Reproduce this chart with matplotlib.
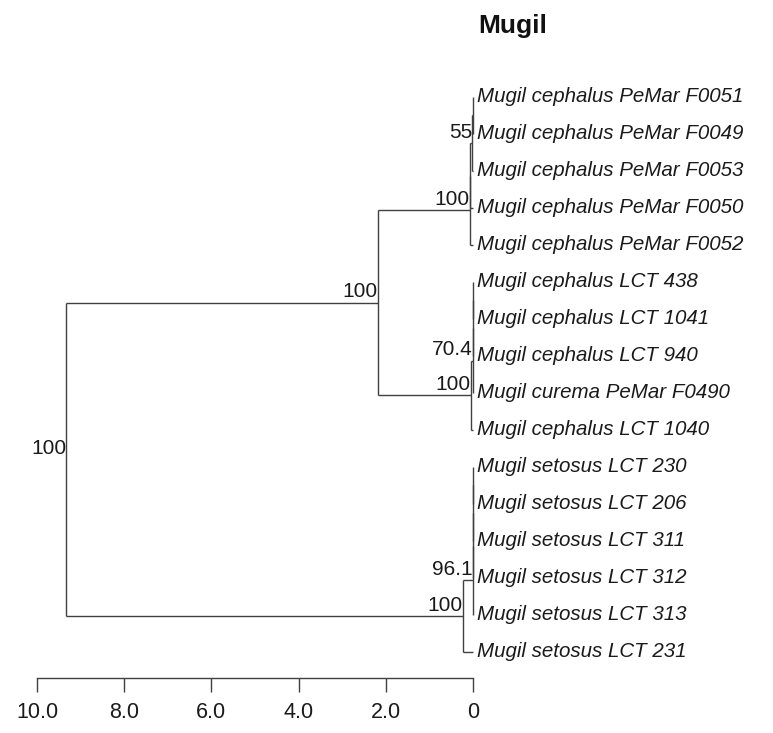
import matplotlib
matplotlib.use("Agg")
import matplotlib.pyplot as plt

plt.rcParams['font.family'] = ['Liberation Sans', 'DejaVu Sans']

title = "Mugil"
leaf_names = [
    "Mugil cephalus PeMar F0051", "Mugil cephalus PeMar F0049",
    "Mugil cephalus PeMar F0053", "Mugil cephalus PeMar F0050",
    "Mugil cephalus PeMar F0052",
    "Mugil cephalus LCT 438", "Mugil cephalus LCT 1041",
    "Mugil cephalus LCT 940", "Mugil curema PeMar F0490",
    "Mugil cephalus LCT 1040",
    "Mugil setosus LCT 230", "Mugil setosus LCT 206",
    "Mugil setosus LCT 311", "Mugil setosus LCT 312",
    "Mugil setosus LCT 313", "Mugil setosus LCT 231",
]
# internal nodes: children (leaf index or node id), height (distance), support label
node_ids = ['p1', 'p2', 'p3', 'pm',
            'l1', 'l2', 'l3', 'lc',
            's1', 's2', 's3', 's4', 'st',
            'cep', 'root']
node_kids = [[0, 1], ['p1', 2], ['p2', 3], ['p3', 4],
             [5, 6], ['l1', 7], ['l2', 8], ['l3', 9],
             [10, 11], ['s1', 12], ['s2', 13], ['s3', 14], ['s4', 15],
             ['pm', 'lc'], ['cep', 'st']]
node_height = [0.0, 0.02, 0.08, 0.08,
               0.0, 0.0, 0.0, 0.05,
               0.0, 0.0, 0.0, 0.0, 0.23,
               2.18, 9.33]
node_support = ['', '55', '', '100',
                '', '', '70.4', '100',
                '', '', '', '96.1', '100',
                '100', '100']
axis_ticks = [10, 8, 6, 4, 2, 0]
axis_labels = ["10.0", "8.0", "6.0", "4.0", "2.0", "0"]

W, H = 773, 733
fig = plt.figure(figsize=(W / 100, H / 100), dpi=100)
ax = fig.add_axes([0, 0, 1, 1])

# pixel mapping used only to set the axes limits
px_per_unit = 43.6
x0_px, y0_px, dy_px = 473, 97, 37
ax.set_xlim(x0_px / px_per_unit, -(W - x0_px) / px_per_unit)
ax.set_ylim((H - y0_px) / dy_px, -y0_px / dy_px)

pos = {}
for i in range(len(leaf_names)):
    pos[i] = (0.0, float(i))
for nid, kids, h in zip(node_ids, node_kids, node_height):
    ys = [pos[k][1] for k in kids]
    pos[nid] = (h, (ys[0] + ys[-1]) / 2)

lc = '#404040'
tc = '#1a1a1a'
lw = 1.0
for nid, kids, h, sup in zip(node_ids, node_kids, node_height, node_support):
    ys = [pos[k][1] for k in kids]
    ax.plot([h, h], [ys[0], ys[-1]], color=lc, lw=lw, solid_capstyle='butt')
    for k in kids:
        kx, ky = pos[k]
        ax.plot([h, kx], [ky, ky], color=lc, lw=lw, solid_capstyle='butt')
    if sup:
        ax.annotate(sup, (h, pos[nid][1]), xytext=(0, 4), textcoords='offset points',
                    ha='right', va='baseline', fontsize=15, color=tc)

for i, name in enumerate(leaf_names):
    ax.annotate(name, (0.0, i), xytext=(3, 0), textcoords='offset points',
                ha='left', va='center', fontsize=14.8, style='italic', color=tc)

for s in ['left', 'right', 'top']:
    ax.spines[s].set_visible(False)
ax.spines['bottom'].set_position(('data', (678 - y0_px) / dy_px))
ax.spines['bottom'].set_bounds(0, 10)
ax.spines['bottom'].set_color(lc)
ax.spines['bottom'].set_linewidth(lw)
ax.set_xticks(axis_ticks)
ax.set_xticklabels(axis_labels)
ax.tick_params(axis='x', direction='out', length=10, width=lw, color=lc,
               pad=7, labelsize=15.5, labelcolor=tc)
ax.set_yticks([])
ax.patch.set_visible(False)

fig.text(513 / W, 1 - 26 / H, title, ha='center', va='center',
         fontsize=19, fontweight='bold', color='#111111')

fig.savefig("out.png", dpi=100)
